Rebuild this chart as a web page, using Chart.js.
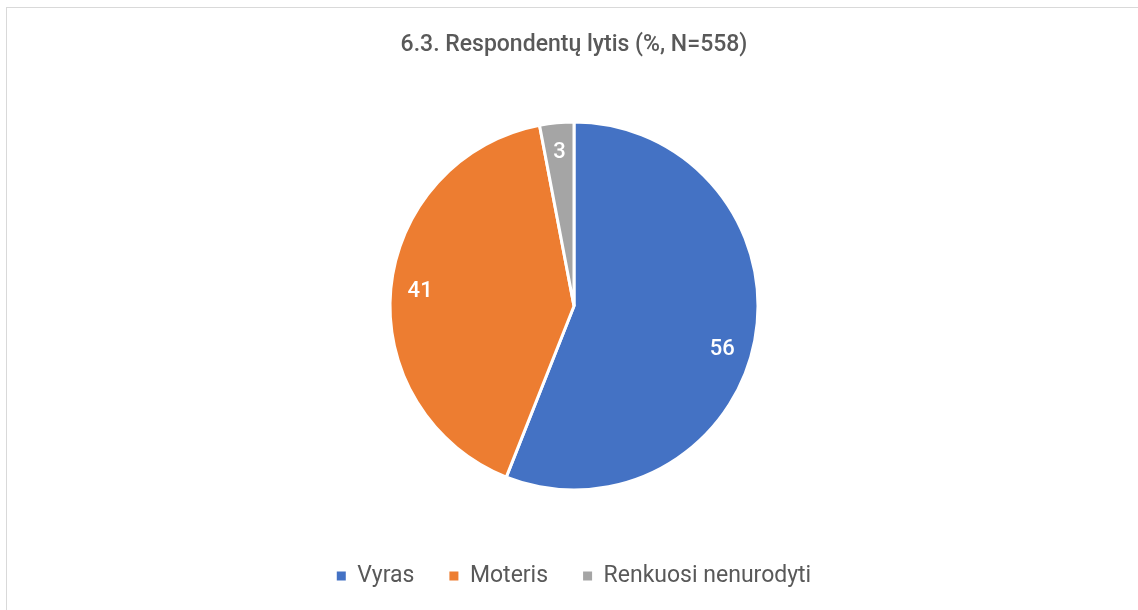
<!DOCTYPE html>
<html lang="lt">
<head>
    <meta charset="UTF-8">
    <title>Respondentų lytis</title>
    <script src="https://cdn.jsdelivr.net/npm/chart.js"></script>
    <style>
        body { margin: 0; background: #fff; }
        .frame {
            position: absolute; left: 6px; top: 7px;
            width: 1200px; height: 700px;
            border: 1px solid #d9d9d9;
        }
        .chart-box {
            position: absolute; left: 0; top: 0;
            width: 1138px; height: 610px;
        }
    </style>
</head>
<body>
    <div class="frame"></div>
    <div class="chart-box">
        <canvas id="genderPie"></canvas>
    </div>

    <script>
        const labels = ['Vyras', 'Moteris', 'Renkuosi nenurodyti'];
        const shares = [56, 41, 3];
        const sliceColors = ['#4472C4', '#ED7D31', '#A5A5A5'];

        // small nudges so labels sit where Excel's "best fit" puts them
        const labelAngleShift = [0.10, 0, 0];

        // white numbers inside the slices, like Excel data labels
        const sliceLabels = {
            id: 'sliceLabels',
            afterDatasetsDraw(chart) {
                const ctx = chart.ctx;
                const meta = chart.getDatasetMeta(0);
                ctx.save();
                ctx.fillStyle = '#ffffff';
                ctx.font = '500 22px Roboto';
                ctx.textAlign = 'center';
                ctx.textBaseline = 'middle';
                meta.data.forEach((arc, i) => {
                    const mid = (arc.startAngle + arc.endAngle) / 2 + labelAngleShift[i];
                    const r = arc.outerRadius * 0.84;
                    ctx.fillText(String(shares[i]), arc.x + Math.cos(mid) * r, arc.y + Math.sin(mid) * r);
                });
                ctx.restore();
            }
        };

        const ctx = document.getElementById('genderPie').getContext('2d');
        new Chart(ctx, {
            type: 'pie',
            data: {
                labels: labels,
                datasets: [{
                    data: shares,
                    backgroundColor: sliceColors,
                    borderColor: '#ffffff',
                    borderWidth: 3,
                    radius: 184
                }]
            },
            options: {
                responsive: true,
                maintainAspectRatio: false,
                animation: false,
                layout: { padding: { left: 10, bottom: 12.5 } },
                plugins: {
                    title: {
                        display: true,
                        text: '6.3. Respondentų lytis (%, N=558)',
                        color: '#595959',
                        font: { family: 'Roboto', size: 23, weight: '500' },
                        padding: { top: 31.2, bottom: 23.7 }
                    },
                    legend: {
                        position: 'bottom',
                        labels: {
                            color: '#595959',
                            font: { family: 'Roboto', size: 23 },
                            boxWidth: 9,
                            boxHeight: 9,
                            padding: 35,
                            generateLabels(chart) {
                                const items = Chart.overrides.pie.plugins.legend.labels.generateLabels(chart);
                                items.forEach(it => { it.lineWidth = 0; it.strokeStyle = it.fillStyle; });
                                return items;
                            }
                        }
                    },
                    tooltip: { enabled: false }
                }
            },
            plugins: [sliceLabels]
        });
    </script>
</body>
</html>
